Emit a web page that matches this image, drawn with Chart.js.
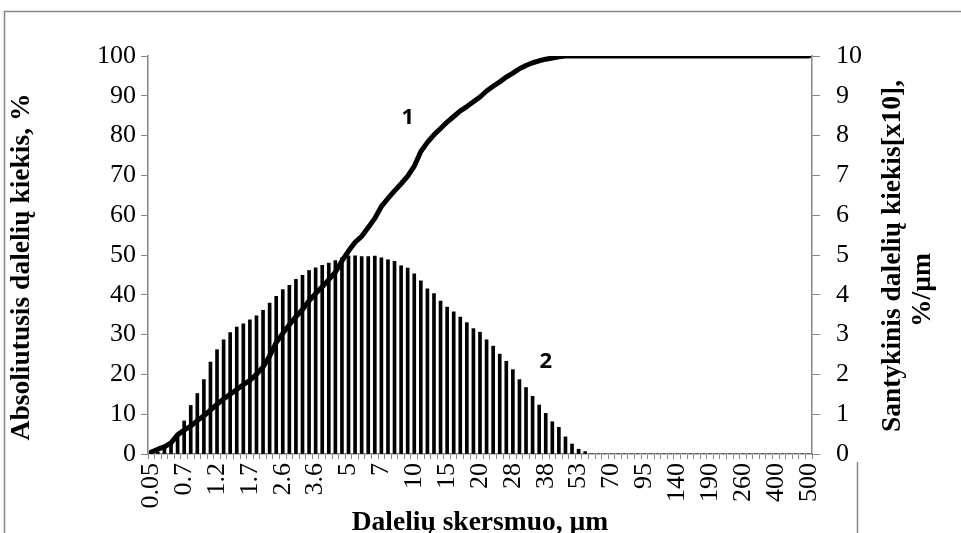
<!DOCTYPE html>
<html>
<head>
<meta charset="utf-8">
<title>Daleliu pasiskirstymas</title>
<script src="https://cdn.jsdelivr.net/npm/chart.js@4.4.1/dist/chart.umd.min.js"></script>
<style>
    html, body { margin: 0; padding: 0; background: #fff; }
    #wrap { position: relative; width: 961px; height: 533px; }
    canvas { display: block; }
</style>
</head>
<body>
<div id="wrap"><canvas id="psd-chart" width="961" height="533"></canvas></div>
<script>
/* particle size distribution: cumulative curve (1) and frequency bars (2) */

// size classes, um (every 5th one is labelled on the axis)
var sizes = [
    '0.05', '0.15', '0.3', '0.45', '0.6',
    '0.7', '0.8', '0.9', '1.0', '1.1',
    '1.2', '1.3', '1.4', '1.5', '1.6',
    '1.7', '1.9', '2.0', '2.2', '2.4',
    '2.6', '2.8', '3.0', '3.2', '3.4',
    '3.6', '3.8', '4.0', '4.3', '4.6',
    '5', '5.4', '5.8', '6.2', '6.6',
    '7', '7.5', '8', '8.5', '9',
    '10', '11', '12', '13', '14',
    '15', '16', '17', '18', '19',
    '20', '22', '23', '25', '26',
    '28', '30', '32', '34', '36',
    '38', '41', '44', '47', '50',
    '53', '56', '60', '63', '67',
    '70', '75', '80', '85', '90',
    '95', '100', '110', '120', '130',
    '140', '150', '160', '170', '180',
    '190', '200', '220', '230', '250',
    '260', '280', '300', '330', '360',
    '400', '420', '440', '460', '480',
    '500'
];

// curve 1: absolute (cumulative) amount, %
var cumulative = [
    0.5, 1.2, 1.8, 2.8, 4.8, 6.0, 7.0, 8.4, 9.6, 11.0,
    12.5, 13.8, 15.0, 16.2, 17.4, 18.5, 20.0, 21.9, 24.6, 28.0,
    30.3, 32.5, 34.5, 36.3, 38.5, 40.3, 42.0, 43.8, 45.7, 48.5,
    51.0, 53.2, 54.7, 56.9, 59.2, 62.2, 64.2, 66.1, 67.9, 69.8,
    72.3, 76.0, 78.3, 80.2, 81.8, 83.4, 84.8, 86.2, 87.3, 88.5,
    89.7, 91.2, 92.4, 93.5, 94.7, 95.7, 96.8, 97.6, 98.3, 98.8,
    99.2, 99.5, 99.8, 100, 100, 100, 100, 100, 100, 100,
    100, 100, 100, 100, 100, 100, 100, 100, 100, 100,
    100, 100, 100, 100, 100, 100, 100, 100, 100, 100,
    100, 100, 100, 100, 100, 100, 100, 100, 100, 100,
    100
];

// bars 2: relative amount [x10], %/um
var relative = [
    0, 0.05, 0.15, 0.3, 0.48, 0.83, 1.22, 1.52, 1.87, 2.31,
    2.62, 2.87, 3.05, 3.19, 3.27, 3.37, 3.47, 3.61, 3.79, 3.96,
    4.13, 4.24, 4.39, 4.49, 4.61, 4.68, 4.74, 4.80, 4.86, 4.93,
    4.98, 4.98, 4.96, 4.96, 4.97, 4.93, 4.88, 4.84, 4.73, 4.67,
    4.53, 4.35, 4.15, 4.03, 3.84, 3.69, 3.57, 3.44, 3.30, 3.15,
    3.06, 2.87, 2.71, 2.51, 2.33, 2.12, 1.87, 1.67, 1.45, 1.23,
    1.02, 0.81, 0.67, 0.43, 0.25, 0.12, 0.06, 0, 0, 0,
    0, 0, 0, 0, 0, 0, 0, 0, 0, 0,
    0, 0, 0, 0, 0, 0, 0, 0, 0, 0,
    0, 0, 0, 0, 0, 0, 0, 0, 0, 0,
    0
];

var leftTicks = { min: 0, max: 100, step: 10 };
var rightTicks = { min: 0, max: 10, step: 1 };

// curve markers "1" and "2": [text, category index, value, axis]
var markers = [
    ['1', 39, 84.5, 'y'],
    ['2', 60, 2.33, 'y2']
];

var titleLeft = 'Absoliutusis dalelių kiekis, %';
var titleRight = ['Santykinis dalelių kiekis[x10],', '%/µm'];
var titleBottom = 'Dalelių skersmuo, µm';

(function () {
    'use strict';

    var axisGray = '#868686';
    var serif = '"Liberation Serif", "Times New Roman", serif';
    var tickFont = { family: serif, size: 26 };

    // titles, markers and the outer frame are drawn by hand
    var decorPlugin = {
        id: 'decor',
        afterDraw: function (chart) {
            var ctx = chart.ctx;
            var area = chart.chartArea;
            var xs = chart.scales.x;
            ctx.save();

            // outer frame of the embedded chart (cut by the picture edge)
            ctx.strokeStyle = axisGray;
            ctx.lineWidth = 1.5;
            ctx.beginPath();
            ctx.moveTo(4.5, 533);
            ctx.lineTo(4.5, 11.5);
            ctx.lineTo(961, 11.5);
            ctx.moveTo(857.5, 462);
            ctx.lineTo(857.5, 533);
            ctx.stroke();

            ctx.fillStyle = '#000';
            ctx.font = 'bold 27.5px ' + serif;
            ctx.textAlign = 'center';
            ctx.textBaseline = 'middle';

            var midY = (area.top + area.bottom) / 2;

            // left title
            ctx.save();
            ctx.translate(22, midY + 12);
            ctx.rotate(-Math.PI / 2);
            ctx.fillText(titleLeft, 0, 0);
            ctx.restore();

            // right title, two lines
            ctx.save();
            ctx.translate(893, midY + 1);
            ctx.rotate(-Math.PI / 2);
            ctx.fillText(titleRight[0], 0, 0);
            ctx.restore();
            ctx.save();
            ctx.translate(923, midY + 35);
            ctx.rotate(-Math.PI / 2);
            ctx.fillText(titleRight[1], 0, 0);
            ctx.restore();

            // bottom title
            ctx.textBaseline = 'alphabetic';
            ctx.fillText(titleBottom, (area.left + area.right) / 2, 530);

            // curve markers
            ctx.font = 'bold 22px "Open Sans", "Liberation Sans", sans-serif';
            ctx.textBaseline = 'middle';
            markers.forEach(function (m) {
                var px = xs.getPixelForValue(m[1]);
                var py = chart.scales[m[3]].getPixelForValue(m[2]);
                ctx.fillText(m[0], px, py);
            });

            ctx.restore();
        }
    };

    var ctx = document.getElementById('psd-chart').getContext('2d');
    new Chart(ctx, {
        type: 'bar',
        data: {
            labels: sizes,
            datasets: [
                {
                    type: 'line',
                    label: '1',
                    data: cumulative,
                    yAxisID: 'y',
                    borderColor: '#000',
                    borderWidth: 5,
                    borderJoinStyle: 'round',
                    borderCapStyle: 'round',
                    pointRadius: 0,
                    tension: 0,
                    fill: false,
                    order: 0
                },
                {
                    type: 'bar',
                    label: '2',
                    data: relative,
                    yAxisID: 'y2',
                    backgroundColor: '#000',
                    barThickness: 3,
                    order: 1
                }
            ]
        },
        options: {
            responsive: false,
            animation: false,
            devicePixelRatio: 1,
            layout: { padding: { top: 56, left: 0, right: 0, bottom: 0 } },
            plugins: {
                legend: { display: false },
                tooltip: { enabled: false }
            },
            scales: {
                x: {
                    type: 'category',
                    offset: true,
                    border: { color: axisGray, width: 1.5 },
                    grid: { offset: true, drawOnChartArea: false, tickLength: 5, color: axisGray },
                    ticks: {
                        autoSkip: false,
                        minRotation: 90,
                        maxRotation: 90,
                        padding: 4,
                        color: '#000',
                        font: tickFont,
                        callback: function (val, i) {
                            return i % 5 === 0 ? sizes[i] : '';
                        }
                    },
                    afterFit: function (s) { s.height = 79; }
                },
                y: {
                    position: 'left',
                    min: leftTicks.min,
                    max: leftTicks.max,
                    border: { color: axisGray, width: 1.5 },
                    grid: { drawOnChartArea: false, tickLength: 7, color: axisGray },
                    ticks: { stepSize: leftTicks.step, padding: 5, color: '#000', font: tickFont },
                    afterFit: function (s) { s.width = 148; }
                },
                y2: {
                    position: 'right',
                    min: rightTicks.min,
                    max: rightTicks.max,
                    border: { color: axisGray, width: 1.5 },
                    grid: { drawOnChartArea: false, tickLength: 8, color: axisGray },
                    ticks: { stepSize: rightTicks.step, padding: 16, color: '#000', font: tickFont },
                    afterFit: function (s) { s.width = 149; }
                }
            }
        },
        plugins: [decorPlugin]
    });
})();
</script>
</body>
</html>
